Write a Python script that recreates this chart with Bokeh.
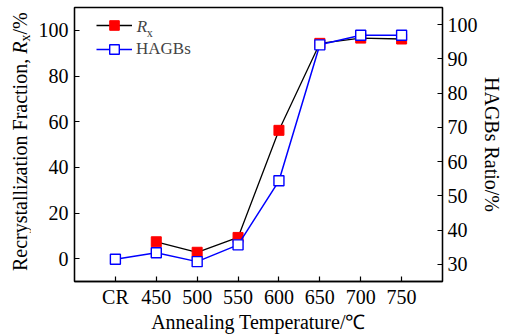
from bokeh.plotting import figure
from bokeh.layouts import row
from bokeh.models import (Range1d, LinearAxis, FixedTicker, Legend, LegendItem, Label, Div)
from bokeh.embed import file_html
from bokeh.resources import INLINE
import numpy as np

# Annealing conditions (CR = cold rolled)
categories = ["CR", "450", "500", "550", "600", "650", "700", "750"]
# Recrystallization fraction Rx (%), no value for the cold-rolled state
rx_values = [np.nan, 7.4, 2.8, 9.3, 56.2, 94.3, 96.6, 96.2]
# HAGBs ratio (%)
hagb_values = [31.5, 33.4, 30.8, 35.7, 54.4, 94.1, 96.9, 96.9]
left_ticks = [0, 20, 40, 60, 80, 100]
right_ticks = [30, 40, 50, 60, 70, 80, 90, 100]

FONT = "Liberation Serif"
x = list(range(len(categories)))

# ---- narrow strip carrying the rotated left-axis title (italic R, subscript x) ----
TW, H = 30, 335
title_html = (
    f'<div style="position:relative;width:{TW}px;height:{H}px;overflow:visible;">'
    '<span style="position:absolute;left:10px;top:271px;transform-origin:0 0;'
    "transform:rotate(-90deg);white-space:nowrap;font-family:'Liberation Serif';"
    'font-size:20px;line-height:20px;color:black;">'
    'Recrystallization Fraction, <i>R</i>'
    '<span style="font-size:14px;position:relative;top:3px;">x</span>/%'
    '</span></div>'
)
title_div = Div(text=title_html, width=TW, height=H, margin=0)

# ---- main chart ----
p = figure(width=505 - TW, height=H, output_backend="svg", toolbar_location=None,
           x_range=Range1d(-1, 8), y_range=Range1d(-10, 110),
           min_border_left=44, min_border_right=58, min_border_top=7, min_border_bottom=53)
p.extra_y_ranges = {"hagb": Range1d(25, 105)}
p.xgrid.visible = False
p.ygrid.visible = False
p.outline_line_color = "black"
p.outline_line_width = 1.3
p.background_fill_color = "white"
p.border_fill_color = "white"


def style_axis(ax):
    ax.major_tick_in = 5
    ax.major_tick_out = 0
    ax.minor_tick_in = 0
    ax.minor_tick_out = 0
    ax.axis_line_color = "black"
    ax.axis_line_width = 1.3
    ax.major_tick_line_width = 1.2
    ax.major_label_text_font = FONT
    ax.major_label_text_font_size = "20px"
    ax.major_label_text_color = "black"
    ax.axis_label_text_font = FONT
    ax.axis_label_text_font_style = "normal"
    ax.axis_label_text_font_size = "20px"
    ax.axis_label_text_color = "black"


xa = p.xaxis[0]
xa.ticker = FixedTicker(ticks=x)
xa.major_label_overrides = {i: c for i, c in enumerate(categories)}
xa.axis_label = "Annealing Temperature/\u2103"
style_axis(xa)
xa.major_label_standoff = 4
xa.axis_label_standoff = 0

ya = p.yaxis[0]
ya.ticker = FixedTicker(ticks=left_ticks)
style_axis(ya)
ya.major_label_standoff = 6

yr = LinearAxis(y_range_name="hagb", ticker=FixedTicker(ticks=right_ticks),
                axis_label="HAGBs Ratio/%")
style_axis(yr)
yr.major_label_standoff = 5
yr.axis_label_standoff = 0
p.add_layout(yr, "right")

# Rx series (left axis)
rx_line = p.line(x, rx_values, line_color="black", line_width=1.3)
rx_pts = p.scatter(x, rx_values, marker="square", size=10, fill_color="red",
                   line_color="red")
# HAGBs series (right axis)
hg_line = p.line(x, hagb_values, line_color="blue", line_width=1.5, y_range_name="hagb")
hg_pts = p.scatter(x, hagb_values, marker="square", size=10, fill_color="white",
                   line_color="blue", line_width=1.4, y_range_name="hagb")

legend = Legend(items=[LegendItem(label=" ", renderers=[rx_line, rx_pts]),
                       LegendItem(label="HAGBs", renderers=[hg_line, hg_pts])],
                location=(22, 220), margin=0, padding=0, spacing=0,
                glyph_width=36, glyph_height=24, label_height=24, label_standoff=4,
                label_text_font=FONT, label_text_font_size="17px",
                background_fill_alpha=0, border_line_alpha=0)
p.add_layout(legend)

# Legend text for Rx with italic R and subscript x
p.add_layout(Label(x=0.52, y=101.7, text="R", text_font=FONT, text_font_style="italic",
                   text_font_size="17px", text_baseline="middle"))
p.add_layout(Label(x=0.77, y=98.9, text="x", text_font=FONT,
                   text_font_size="12px", text_baseline="middle"))

layout = row(title_div, p, spacing=0)
open("out.html", "w").write(file_html(layout, INLINE))
